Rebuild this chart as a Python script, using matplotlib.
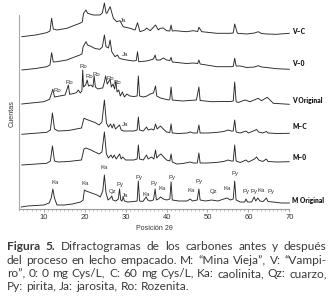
import matplotlib
matplotlib.use('Agg')
import matplotlib.pyplot as plt
from matplotlib.ticker import MultipleLocator

# ---------------- data (2θ in degrees, counts in arbitrary stacked units) ----------------
tt_vc = [4.6, 8, 10.7, 11.5, 11.9, 12.3, 13.2, 15.6, 18.8, 19.4, 19.7, 20.3, 20.7, 22.1, 23.7, 24.3, 24.8,
         25.2, 25.4, 26.2, 27.0, 27.8, 28.6, 29.4, 31.1, 32.3, 32.9, 33.5, 34.7, 35.1, 36.0, 37.3, 38.0,
         38.4, 39.2, 40.0, 40.8, 41.1, 41.4, 42.1, 44.9, 46.5, 47.6, 47.9, 48.6, 52.3, 55.5, 56.3, 56.65,
         57.3, 59.6, 61.5, 62.4, 63.2, 64.5, 66.9, 70]
h_vc = [172.3, 174, 176.3, 178, 190.7, 180, 179, 180.7, 185.7, 187, 195.7, 199, 195.7, 194, 194, 196, 206,
        196, 195.7, 202.3, 190.7, 187.3, 188.3, 182.3, 180.7, 179, 186.3, 177.3, 179, 181, 178.3, 184, 179,
        180.7, 181, 178.3, 178, 184, 178, 178.3, 177.3, 178.3, 177.5, 181.7, 177.3, 175.7, 175.7, 176, 185,
        175.7, 175, 176, 177.3, 175.5, 175, 174.7, 175.7]

tt_v0 = [4.6, 8, 10.7, 11.5, 11.9, 12.3, 13.2, 15.6, 18.8, 19.3, 19.6, 20.3, 20.7, 21.7, 22.5, 23.7, 24.3,
         24.8, 25.2, 25.8, 26.2, 26.6, 27.4, 28.0, 28.4, 29.0, 30.25, 31.9, 32.6, 32.9, 33.2, 35.1, 36.0,
         36.8, 37.2, 37.5, 38.4, 39.2, 40.0, 40.8, 41.1, 41.4, 42.1, 44.9, 46.5, 47.6, 47.9, 48.2, 52.3,
         55.5, 56.3, 56.65, 57.0, 58.0, 59.6, 61.5, 62.4, 63.2, 64.5, 66.9, 70]
h_v0 = [139, 140.5, 142.3, 144, 156.3, 147, 147.3, 149, 154, 155, 162.3, 167.3, 164, 162.3, 160.5, 159.7, 162,
        174, 162.3, 161, 169, 157.3, 152.3, 154, 151, 150, 149, 148, 148.5, 157.3, 147.3, 148, 149,
        150, 154, 149, 149, 151, 149, 148.5, 151.7, 147, 146.7, 145.5, 146, 145.5, 149, 145, 142.3,
        142.3, 142.5, 150.7, 143, 143, 141.5, 142, 143.3, 142, 141.5, 140.3, 139.7]

tt_vo = [4.6, 10.0, 11.4, 12.2, 12.6, 15.2, 16.0, 16.3, 17.5, 18.0, 18.4, 18.9, 19.3, 19.5, 19.7, 20.2, 20.6,
         20.9, 21.5, 22.0, 22.3, 22.6, 23.2, 23.8, 24.4, 24.8, 25.1, 25.5, 25.8, 26.2, 26.5, 26.9, 27.3,
         27.6, 27.9, 28.3, 28.7, 29.2, 29.7, 30.3, 31.0, 32.0, 32.8, 33.1, 33.4, 34.3, 35.2, 36.0, 36.8,
         37.3, 37.6, 38.5, 39.5, 40.5, 40.8, 41.1, 41.4, 42.5, 44.0, 45.5, 47.3, 47.9, 48.2, 49.5, 51.0,
         54.0, 55.5, 56.3, 56.65, 57.0, 57.5, 59.2, 60.4, 62.4, 63.2, 64.6, 66.1, 70]
h_vo = [105, 107.3, 109.7, 119.7, 112, 114, 124, 114.7, 115.7, 116.5, 119, 116, 118, 139, 122, 124, 129,
        123, 124, 122, 133, 122, 120, 120.7, 121, 127, 133, 125, 127, 129.7, 122, 125, 120,
        128, 117, 119, 113, 117, 112, 115, 113, 112.5, 113, 133, 113, 112, 113, 115, 116,
        123, 113, 111, 110, 109, 110, 122, 109, 108.5, 108, 108.5, 109, 122, 108.5, 108, 107.3,
        107.5, 107.5, 108, 127, 107.3, 106.5, 109, 107.3, 110.7, 108.3, 111.7, 105.7, 104.7]

tt_mc = [4.6, 10.7, 11.6, 12.1, 12.6, 13.5, 16.0, 19.2, 19.8, 20.5, 21.5, 22.5, 23.5, 24.2, 24.8, 25.3, 25.8,
         26.3, 26.7, 27.1, 27.5, 28.5, 28.9, 29.5, 32.0, 32.8, 33.1, 33.4, 34.3, 35.1, 35.5, 36.3, 36.9,
         37.3, 37.7, 38.5, 39.2, 40.0, 40.8, 41.1, 41.4, 43.0, 45.0, 45.8, 46.5, 47.5, 47.9, 48.2, 50.0,
         52.0, 54.0, 55.0, 55.8, 56.3, 56.65, 57.0, 58.0, 59.4, 60.0, 61.5, 62.0, 62.5, 63.5, 64.4, 64.8,
         67.0, 70]
h_mc = [74.7, 76.7, 79, 96, 80, 78, 78.5, 81, 90.7, 89.5, 88, 86.5, 84, 87, 109, 86, 82,
        85, 81, 85, 80, 84, 79, 78, 78, 79, 92, 79, 78, 82, 79, 80, 79,
        85, 80, 83, 80, 77, 76.5, 85, 76, 75.5, 76, 77, 76, 76, 84, 76, 76,
        76.5, 77.5, 79, 78, 78, 89, 77, 76, 78, 76, 78.5, 79.5, 77, 76, 77.5, 76,
        75.5, 75.7]

tt_m0 = [4.6, 10.7, 11.6, 12.1, 12.6, 13.5, 16.0, 19.2, 19.8, 20.3, 21.5, 22.5, 23.5, 24.2, 24.8, 25.3, 25.8,
         26.4, 26.8, 27.2, 27.7, 28.5, 28.9, 29.3, 30.0, 32.0, 32.8, 33.1, 33.4, 34.3, 35.1, 35.5, 36.3,
         36.9, 37.3, 37.6, 38.0, 38.6, 39.3, 40.0, 40.8, 41.1, 41.4, 42.5, 44.0, 45.8, 46.5, 47.5, 47.9,
         48.2, 50.0, 52.0, 54.0, 55.0, 55.8, 56.3, 56.65, 57.0, 58.0, 59.4, 60.0, 61.5, 62.0, 62.5, 63.5,
         64.4, 64.8, 67.0, 70]
h_m0 = [44, 45.7, 48, 63, 48, 47, 47.5, 49, 60, 61, 59, 57, 55, 57, 77, 55, 51,
        54, 51, 54, 50, 55, 50, 52, 49, 49, 50, 64, 50, 49, 54, 50, 52,
        50, 59, 51, 53, 55, 52, 49, 48, 55, 47, 45, 45.5, 47, 46, 46, 56,
        46, 46, 46.5, 47.5, 49, 48, 48, 64, 48, 46.5, 49, 47, 50, 52, 49, 47.5,
        50, 47.5, 47, 47.3]

tt_mo = [4.5, 6, 8, 10, 11.3, 11.8, 12.2, 12.6, 13.2, 15, 17, 19, 19.6, 19.9, 20.3, 21, 22, 23, 23.8, 24.4,
         24.8, 25.2, 25.7, 26.3, 26.6, 26.9, 27.6, 28.2, 28.5, 28.8, 29.1, 29.4, 29.7, 30.5, 32, 32.8,
         33.1, 33.4, 34.2, 35.0, 35.4, 36, 36.8, 37.2, 37.5, 38.0, 38.5, 39.2, 40.0, 40.8, 41.1, 41.4,
         43, 45, 45.8, 46.3, 47.5, 47.9, 48.2, 49.5, 51, 52.5, 54, 54.8, 55.6, 56.3, 56.65, 57.0, 58,
         59.1, 59.4, 59.8, 60.8, 61.4, 61.8, 62.3, 62.8, 63.6, 64.4, 64.8, 66, 68, 70]
h_mo = [2, 3, 3.5, 4, 6, 11, 20, 11, 4, 4, 5, 7, 9, 19, 18, 17, 15.5, 14, 12, 18,
        34, 16, 9, 11, 13, 9, 8, 10, 20, 9, 8, 12, 8, 7, 7.5, 8,
        28, 8, 7.5, 12, 9, 8, 9, 20, 9, 10, 12, 10, 9, 10, 27, 9,
        8, 8, 10, 8, 9, 20, 9, 8, 9, 8, 10, 11, 9, 10, 28, 9, 7,
        7, 10, 7, 7, 12, 8, 11, 8, 7.5, 11, 7.5, 7, 6, 6]

series_names = ["V–C", "V–0", "V Original", "M–C", "M–0", "M Original"]
name_levels = [177, 145, 108, 82.5, 51, 9]

peak_text = ["Ja", "Ja", "Ro", "Ro", "Ro", "Ro", "Ro", "Ro", "Ro", "Ja",
             "Ka", "Ka", "Ka", "Qz", "Py", "Ja", "Py", "Ka", "Py", "Ka", "Py", "Ka", "Py",
             "Qz", "Ka", "Py", "Py", "Py", "Ka", "Py"]
peak_x = [29.3, 29.8, 13.3, 16.2, 19.6, 21.1, 22.9, 26.2, 28.0, 29.8,
          12.8, 20.0, 24.8, 26.8, 28.6, 29.8, 33.3, 35.1, 36.9, 38.9, 41.4, 45.9, 48.0,
          51.4, 54.7, 56.65, 59.4, 61.4, 63.2, 65.5]
peak_y = [188.3, 154, 119, 126.3, 142.3, 133, 135, 130, 126.3, 84,
          27, 25.2, 41.2, 18, 24.8, 13.2, 32, 14, 25.4, 20, 31, 19, 27.3,
          17, 20, 36, 17.5, 18, 18, 18]

xticks = [10, 20, 30, 40, 50, 60, 70]

caption_lines = [
    [("Figura 5.", "bold"), ("Difractogramas de los carbones antes y después", "normal")],
    [("del proceso en lecho empacado. M: “Mina Vieja”, V: “Vampi-", "normal")],
    [("ro”, 0: 0 mg Cys/L, C: 60 mg Cys/L, Ka: caolinita, Qz: cuarzo,", "normal")],
    [("Py: pirita, Ja: jarosita, Ro: Rozenita.", "normal")],
]

# ---------------- figure ----------------
W, H = 332, 306
fig = plt.figure(figsize=(W / 100, H / 100), dpi=100)
fig.patch.set_facecolor('white')
ax = fig.add_axes([19.3 / W, (H - 209) / H, 270 / W, 209 / H])
ax.set_facecolor('none')

line_col = '#262626'
for tt, hh in [(tt_vc, h_vc), (tt_v0, h_v0), (tt_vo, h_vo), (tt_mc, h_mc), (tt_m0, h_m0), (tt_mo, h_mo)]:
    ax.plot(tt, hh, color=line_col, lw=0.65, solid_joinstyle='round', clip_on=False)

for name, lev in zip(series_names, name_levels):
    ax.text(70.7, lev, name, fontsize=4.8, fontweight='heavy', family='Lato', color='#1a1a1a',
            ha='left', va='center', clip_on=False)

for s, x, y in zip(peak_text, peak_x, peak_y):
    ax.text(x, y, s, fontsize=4.3, family='Liberation Sans', color='#333333', ha='center', va='center')

ax.set_xlim(4, 70)
ax.set_ylim(0, 209)
for sp in ['top', 'right']:
    ax.spines[sp].set_visible(False)
ax.spines['left'].set_bounds(0, 194)
ax.spines['left'].set_color('#a8a8a8')
ax.spines['left'].set_linewidth(0.8)
ax.spines['bottom'].set_color('#9a9a9a')
ax.spines['bottom'].set_linewidth(0.8)
ax.set_yticks([])
ax.set_xticks(xticks)
ax.xaxis.set_minor_locator(MultipleLocator(1))
ax.tick_params(axis='x', which='major', length=2.2, width=0.5, color='#888888', pad=1.5,
               labelsize=5.5, labelcolor='#333333')
ax.tick_params(axis='x', which='minor', length=1.3, width=0.4, color='#999999')
for lab in ax.get_xticklabels():
    lab.set_family('Liberation Sans')
ax.set_xlabel('Posición 2θ', fontsize=5, family='Liberation Sans', color='#333333', labelpad=2.5)

fig.text(12.5 / W, 1 - 113.5 / H, 'Cuentas', rotation=90, fontsize=5.2, family='Liberation Sans',
         color='#333333', ha='center', va='center')

# ---------------- caption (justified) ----------------
renderer = fig.canvas.get_renderer()
cap_font = 'Lato'
cap_color = '#3a3a3a'
probe = fig.text(0, 0, "del proceso en lecho empacado. M: “Mina Vieja”, V: “Vampi-", fontsize=10, family=cap_font)
w10 = probe.get_window_extent(renderer).width
probe.remove()
cap_size = 10 * 314.0 / w10

x_left, x_right = 6.7, 326.7
baselines = [250.5, 264, 277.3, 290.5]
for i, (tokens, yb) in enumerate(zip(caption_lines, baselines)):
    words = []
    for txt, wt in tokens:
        for wd in txt.split(' '):
            words.append((wd, wt))
    objs, widths = [], []
    for wd, wt in words:
        t = fig.text(0, 1 - yb / H, wd, fontsize=cap_size, fontweight=wt, family=cap_font,
                     color=cap_color, ha='left', va='baseline')
        objs.append(t)
        widths.append(t.get_window_extent(renderer).width)
    if i < len(caption_lines) - 1:
        gap = (x_right - x_left - sum(widths)) / (len(words) - 1)
    else:
        gap = 0.26 * cap_size * 100 / 72
    x = x_left
    for t, w in zip(objs, widths):
        t.set_x(x / W)
        x += w + gap

fig.savefig('out.png', dpi=100, facecolor='white')
